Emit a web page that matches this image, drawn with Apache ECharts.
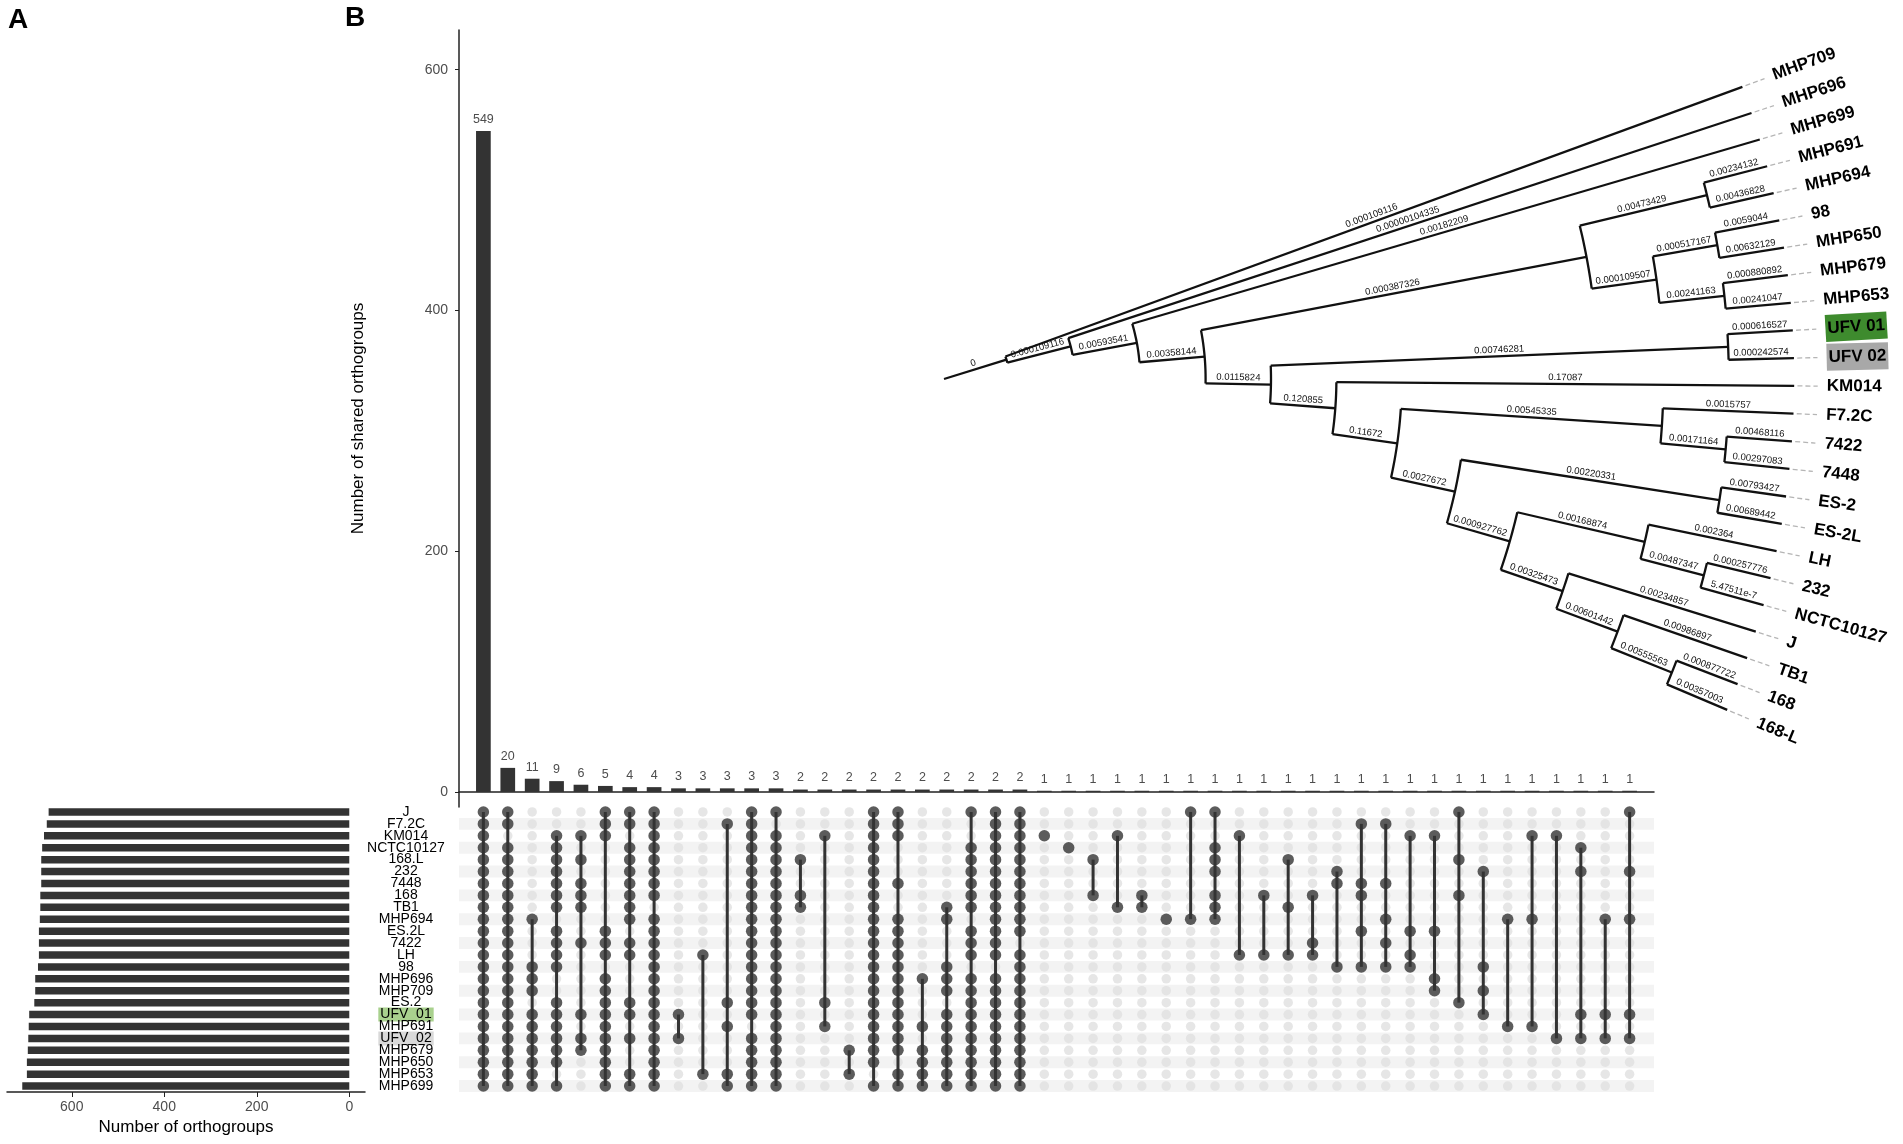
<!DOCTYPE html>
<html><head><meta charset="utf-8">
<script src="https://cdn.jsdelivr.net/npm/echarts@6/dist/echarts.min.js"></script>
<style>html,body{margin:0;padding:0;background:#fff}#c{width:1903px;height:1144px}</style>
</head><body><div id="c"></div>
<script>
// ---------------- DATA ----------------
const strains = ['J','F7.2C','KM014','NCTC10127','168.L','232','7448','168','TB1','MHP694','ES.2L','7422','LH','98','MHP696','MHP709','ES.2','UFV_01','MHP691','UFV_02','MHP679','MHP650','MHP653','MHP699'];
const strainTotals = [650,654,660,664,666,666,666,668,668,669,671,671,671,673,679,679,681,692,693,694,695,697,697,707];
const countTicks = [0,200,400,600];
const intersectionSizes = [549,20,11,9,6,5,4,4,3,3,3,3,3,2,2,2,2,2,2,2,2,2,2,
  1,1,1,1,1,1,1,1,1,1,1,1,1,1,1,1,1,1,1,1,1,1,1,1,1];
// one string per intersection, one character per strain (same order as strains): 1 = member
const intersectionPatterns = [
 '111111111111111111111111','110111111111111111111111','000000000100011101111111','001111111011110011111101',
 '001010111001000001011000','111000000011101111111111','110111111101100011010011','111111110111111111111111',
 '000000000000000001010000','000000000000100000000010','010000000000000010100011','111111111111111111011111',
 '101111111111111111111111','000010011000000000000000','001000000000000010100000','000000000000000000001010',
 '111111111111111111111101','111000100111111111111011','000000000000001000101111','000000001100011101111111',
 '100111111011101111111111','111111111111101111111111','111111111110111111111111','001000000000000000000000',
 '000100000000000000000000','000010010000000000000000','001000001000000000000000','000000011000000000000000',
 '000000000100000000000000','100000000100000000000000','100111011100000000000000','001000000000100000000000',
 '000000010000100000000000','000010001000100000000000','000000010001100000000000','000001100000010000000000',
 '010000110010010000000000','010000100101010000000000','001000000010110000000000','001000000010001100000000',
 '100010010000000010000000','000001000000010101000000','000000000100000000100000','001000000100000000100000',
 '001000000000000000010000','000101000000000001010000','000000000100000001010000','100001000100000001010000'
];
const treeNewick = '(MHP709:0.000109116,(MHP696:0.00000104335,(MHP699:0.00182209,(((MHP691:0.00234132,MHP694:0.00436828):0.00473429,((98:0.0059044,MHP650:0.00632129):0.000517167,(MHP679:0.000880892,MHP653:0.00241047):0.00241163):0.000109507):0.000387326,((UFV 01:0.000616527,UFV 02:0.000242574):0.00746281,(KM014:0.17087,((F7.2C:0.0015757,(7422:0.00468116,7448:0.00297083):0.00171164):0.00545335,((ES-2:0.00793427,ES-2L:0.00689442):0.00220331,((LH:0.002364,(232:0.000257776,NCTC10127:5.47511e-7):0.00487347):0.00168874,(J:0.00234857,(TB1:0.00986897,(168:0.000877722,168-L:0.00357003):0.00555563):0.00601442):0.00325473):0.000927762):0.0027672):0.11672):0.120855):0.0115824):0.00358144):0.00593541):0.000109116):0;';
const highlightTips = {'UFV 01':'#3e8b2e','UFV 02':'#a8a8a8'};
const highlightRows = {'UFV_01':'g','UFV_02':'s'};

// ---------------- TREE LAYOUT (cladogram, fan) ----------------
function parseNewick(s){
  let i=0;
  function node(){
    const n={children:[]};
    if(s[i]==='('){ i++; n.children.push(node()); while(s[i]===','){ i++; n.children.push(node()); } i++; }
    let name=''; while(i<s.length && !':,);'.includes(s[i])) name+=s[i++];
    n.name=name.trim();
    if(s[i]===':'){ i++; let l=''; while(i<s.length && !',);'.includes(s[i])) l+=s[i++]; n.len=l.trim(); }
    return n;
  }
  return node();
}
const tree = parseNewick(treeNewick);
function height(n){ n.h = n.children.length ? 1+Math.max(...n.children.map(height)) : 0; return n.h; }
height(tree);
const maxDepth = tree.h + 1;
const leaves=[];
(function walk(n){ n.r = maxDepth - n.h; if(!n.children.length) leaves.push(n); n.children.forEach(walk); })(tree);
const A0=-20.1, A1=22.9;
leaves.forEach((l,i)=>{ l.a = A0 + i*(A1-A0)/(leaves.length-1); });
(function setA(n){ if(n.children.length){ n.children.forEach(setA); n.a = n.children.reduce((s,c)=>s+c.a,0)/n.children.length; } })(tree);
const treeEdges=[], treeArcs=[];
(function edges(n, pr){
  treeEdges.push({r0:pr, r1:n.r, a:n.a, label:n.len});
  if(n.children.length){
    treeArcs.push({r:n.r, a0:Math.min(...n.children.map(c=>c.a)), a1:Math.max(...n.children.map(c=>c.a))});
    n.children.forEach(c=>edges(c, n.r));
  }
})(tree, 0);

// ---------------- UPSET DATA PREP ----------------
const barData = intersectionSizes.map((v,i)=>[i+1, v]);
const dotsOn=[], dotsOff=[], segs=[];
intersectionPatterns.forEach((p,ci)=>{
  const rows=[];
  for(let r=0;r<strains.length;r++){ if(p[r]==='1'){ dotsOn.push([ci+1,r]); rows.push(r);} else dotsOff.push([ci+1,r]); }
  if(rows.length>1) segs.push([ci+1, Math.min(...rows), Math.max(...rows)]);
});

const FONT='"Liberation Sans", Arial, sans-serif';
const chart = echarts.init(document.getElementById('c'));
const axisCol='#222';
chart.setOption({
  animation:false,
  textStyle:{fontFamily:FONT},
  title:[
    {text:'A', left:8, top:6, padding:0, textStyle:{fontSize:28, fontWeight:'bold', color:'#000', fontFamily:FONT}},
    {text:'B', left:345, top:4, padding:0, textStyle:{fontSize:28, fontWeight:'bold', color:'#000', fontFamily:FONT}}
  ],
  grid:[
    {left:459, top:30, width:1195, height:777},
    {left:459, top:806, width:1195, height:286},
    {left:7, top:806, width:358, height:286}
  ],
  polar:{center:[944,379], radius:14*65.4},
  angleAxis:{type:'value', min:-180, max:180, startAngle:180, clockwise:true, show:false},
  radiusAxis:{type:'value', min:0, max:14, show:false},
  xAxis:[
    {type:'value', gridIndex:0, min:0, max:49, axisLine:{show:true, onZero:true, lineStyle:{color:axisCol, width:1.5}}, axisTick:{show:false}, axisLabel:{show:false}, splitLine:{show:false}},
    {type:'value', gridIndex:1, min:0, max:49, show:false},
    {type:'value', gridIndex:2, inverse:true, min:-34, max:740,
     axisLine:{show:true, onZero:false, lineStyle:{color:axisCol, width:1.5}},
     axisTick:{show:true, length:5, customValues:countTicks, lineStyle:{color:axisCol}},
     axisLabel:{customValues:countTicks, color:'#4d4d4d', fontSize:14, margin:8},
     splitLine:{show:false},
     name:'Number of orthogroups', nameLocation:'middle', nameGap:27, nameTextStyle:{fontSize:17, color:'#000'}}
  ],
  yAxis:[
    {type:'value', gridIndex:0, min:-12.5, max:633,
     axisLine:{show:true, lineStyle:{color:axisCol, width:1.5}},
     axisTick:{show:true, length:4, customValues:countTicks, lineStyle:{color:axisCol}},
     axisLabel:{customValues:countTicks, color:'#4d4d4d', fontSize:14, margin:11},
     splitLine:{show:false},
     name:'Number of shared orthogroups', nameLocation:'middle', nameGap:92, nameTextStyle:{fontSize:17, color:'#000'}},
    {type:'category', gridIndex:1, data:strains, inverse:true, axisLine:{show:false}, axisTick:{show:false, interval:0}, axisLabel:{show:false, interval:0},
     splitArea:{show:true, interval:0, areaStyle:{color:['rgba(255,255,255,0)','#f3f3f3']}}},
    {type:'category', gridIndex:2, data:strains, inverse:true, position:'right', axisLine:{show:false}, axisTick:{show:false, interval:0},
     axisLabel:{show:true, interval:0, margin:41, align:'center', fontSize:14, color:'#000', lineHeight:12,
       formatter:v=> highlightRows[v] ? '{'+highlightRows[v]+'|'+v+'}' : v,
       rich:{g:{backgroundColor:'#a9d18e', fontSize:14, color:'#000', lineHeight:12, padding:[0,2]},
             s:{backgroundColor:'#d9d9d9', fontSize:14, color:'#000', lineHeight:12, padding:[0,2]}}}}
  ],
  series:[
    {type:'bar', xAxisIndex:0, yAxisIndex:0, data:barData, barWidth:14.7, itemStyle:{color:'#333'},
     label:{show:true, position:'top', distance:5, color:'#4d4d4d', fontSize:12.5}},
    {type:'scatter', xAxisIndex:1, yAxisIndex:1, data:dotsOff, symbolSize:9.5, itemStyle:{color:'#e0e0e0'}, z:2},
    {type:'custom', xAxisIndex:1, yAxisIndex:1, data:segs, z:3,
     renderItem:(p,api)=>{ const a=api.coord([api.value(0),api.value(1)]), b=api.coord([api.value(0),api.value(2)]);
       return {type:'line', shape:{x1:a[0],y1:a[1],x2:b[0],y2:b[1]}, style:{stroke:'#333', lineWidth:3}}; }},
    {type:'scatter', xAxisIndex:1, yAxisIndex:1, data:dotsOn, symbolSize:11.5, itemStyle:{color:'#333'}, z:4},
    {type:'bar', xAxisIndex:2, yAxisIndex:2, data:strainTotals, barWidth:7.5, itemStyle:{color:'#333'}},
    // tree: arcs at internal nodes
    {type:'custom', coordinateSystem:'polar', data:treeArcs.map((t,i)=>[t.r, t.a0, i]),
     renderItem:(p,api)=>{ const t=treeArcs[api.value(2)]; const pts=[];
       for(let k=0;k<=12;k++){ pts.push(api.coord([t.r, t.a0+(t.a1-t.a0)*k/12])); }
       return {type:'polyline', shape:{points:pts}, style:{stroke:'#111', lineWidth:2.3, fill:null}}; }},
    // tree: radial branches + branch-length labels
    {type:'custom', coordinateSystem:'polar', data:treeEdges.map((e,i)=>[e.r1, e.a, i]),
     renderItem:(p,api)=>{ const e=treeEdges[api.value(2)];
       const p0=api.coord([e.r0,e.a]), p1=api.coord([e.r1,e.a]), m=api.coord([(e.r0+e.r1)/2,e.a]);
       const ch=[{type:'line', shape:{x1:p0[0],y1:p0[1],x2:p1[0],y2:p1[1]}, style:{stroke:'#111', lineWidth:2.3}}];
       if(e.label!==undefined && e.label!==''){
         ch.push({type:'text', x:m[0], y:m[1], rotation:-e.a*Math.PI/180,
           style:{text:e.label, x:0, y:-1.5, fill:'#111', font:'9.5px '+FONT, align:'center', verticalAlign:'bottom', textAlign:'center', textVerticalAlign:'bottom'}});
       }
       return {type:'group', children:ch}; }},
    // tree: tip extensions + tip labels
    {type:'custom', coordinateSystem:'polar', data:leaves.map((l,i)=>[maxDepth, l.a, i]),
     renderItem:(p,api)=>{ const l=leaves[api.value(2)];
       const d0=api.coord([maxDepth+0.05,l.a]), d1=api.coord([maxDepth+0.36,l.a]), t=api.coord([maxDepth+0.5,l.a]);
       const bg=highlightTips[l.name];
       const st={text:l.name, x:0, y:0, fill:'#000', font:'bold 17px '+FONT, align:'left', verticalAlign:'middle', textAlign:'left', textVerticalAlign:'middle'};
       if(bg){ st.backgroundColor=bg; st.padding=[5,2,5,2]; }
       return {type:'group', children:[
         {type:'line', shape:{x1:d0[0],y1:d0[1],x2:d1[0],y2:d1[1]}, style:{stroke:'#b5b5b5', lineWidth:1.3, lineDash:[5,3]}},
         {type:'text', x:t[0], y:t[1], rotation:-l.a*Math.PI/180, style:st}
       ]}; }}
  ]
});
</script>
</body></html>
